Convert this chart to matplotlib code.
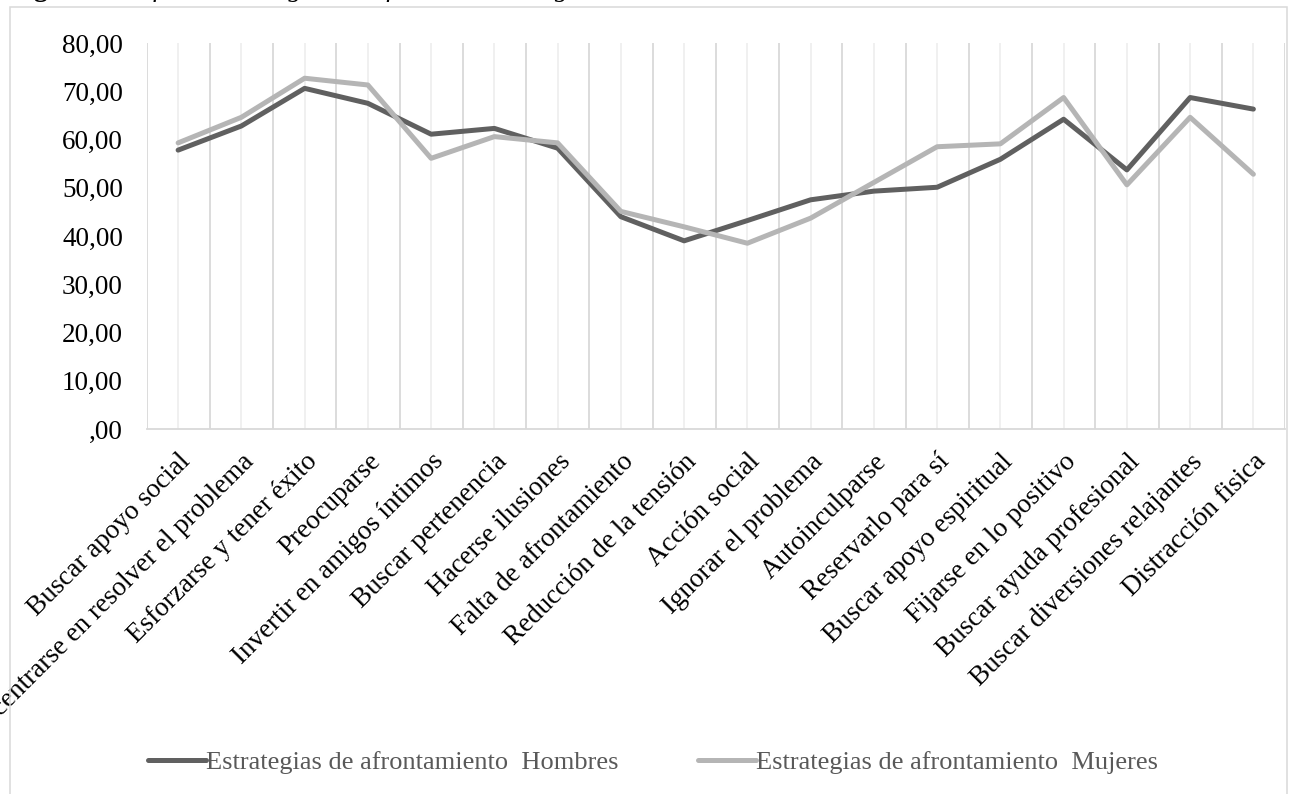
import matplotlib.pyplot as plt
from matplotlib.patches import Rectangle
from matplotlib.ticker import FuncFormatter, FixedLocator
from matplotlib.transforms import ScaledTranslation
import numpy as np

# estrategias de afrontamiento (eje x)
estrategias = [
    "Buscar apoyo social",
    "Concentrarse en resolver el problema",
    "Esforzarse y tener éxito",
    "Preocuparse",
    "Invertir en amigos íntimos",
    "Buscar pertenencia",
    "Hacerse ilusiones",
    "Falta de afrontamiento",
    "Reducción de la tensión",
    "Acción social",
    "Ignorar el problema",
    "Autoinculparse",
    "Reservarlo para sí",
    "Buscar apoyo espiritual",
    "Fijarse en lo positivo",
    "Buscar ayuda profesional",
    "Buscar diversiones relajantes",
    "Distracción fisica",
]

hombres = [57.8, 62.8, 70.6, 67.5, 61.1, 62.3, 58.2, 44.0, 39.0,
           43.2, 47.5, 49.3, 50.1, 55.9, 64.2, 53.7, 68.7, 66.3]
mujeres = [59.3, 64.6, 72.7, 71.3, 56.1, 60.6, 59.3, 45.1, 41.9,
           38.5, 43.7, 51.1, 58.5, 59.1, 68.7, 50.6, 64.6, 52.8]

series_labels = ["Estrategias de afrontamiento  Hombres",
                 "Estrategias de afrontamiento  Mujeres"]
y_ticks = [0, 10, 20, 30, 40, 50, 60, 70, 80]

plt.rcParams['font.family'] = ['Liberation Serif', 'DejaVu Serif']
FS = 19.5

W, H = 1293, 794
fig = plt.figure(figsize=(W / 100, H / 100), dpi=100)

# marco del gráfico
fig.patches.append(Rectangle((10 / W, -0.1), 1276.5 / W, 1.1 - 7.5 / H,
                             transform=fig.transFigure, fill=False,
                             edgecolor='#d9d9d9', linewidth=1.1))

# título de la figura (queda cortado por el borde superior)
fig.text(10 / W, 1 + 4.0 / H, "Figura 1.", fontsize=FS, fontweight='bold',
         va='baseline', ha='left', family='Liberation Serif')
fig.text(114 / W, 1 + 4.0 / H, "Perfil de estrategias de afrontamiento según sexo",
         fontsize=FS, fontstyle='italic', va='baseline', ha='left',
         family='Liberation Serif')

ax = fig.add_axes([146.5 / W, 1 - 429 / H, (1285 - 146.5) / W, (429 - 43) / H])

x = np.arange(len(estrategias))
ax.plot(x, hombres, color='#606060', lw=3.6, solid_capstyle='round',
        solid_joinstyle='round', label=series_labels[0], zorder=3)
ax.plot(x, mujeres, color='#b5b5b5', lw=3.6, solid_capstyle='round',
        solid_joinstyle='round', label=series_labels[1], zorder=3)

ax.set_xlim(-0.5, len(estrategias) - 0.5)
ax.set_ylim(0, 80)

# líneas verticales: claras en cada categoría, más marcadas entre categorías
for b in np.arange(-0.5, len(estrategias), 1.0):
    ax.axvline(b, color='#d9d9d9', lw=1.3, zorder=1)
for c in x:
    ax.axvline(c, color='#efefef', lw=1.3, zorder=1)

ax.set_xticks(x)
ax.set_xticklabels(estrategias, rotation=45, ha='right', rotation_mode='anchor',
                   fontsize=FS)
shift = ScaledTranslation(-4 / 100, 0, fig.dpi_scale_trans)
for lab in ax.get_xticklabels():
    lab.set_transform(lab.get_transform() + shift)

ax.yaxis.set_major_locator(FixedLocator(y_ticks))
ax.yaxis.set_major_formatter(FuncFormatter(
    lambda v, p: ",00" if v == 0 else f"{v:.2f}".replace(".", ",")))
ax.tick_params(axis='y', labelsize=FS, length=0, pad=17)
ax.tick_params(axis='x', length=0, pad=14.5)

for s in ['top', 'right', 'left']:
    ax.spines[s].set_visible(False)
ax.spines['bottom'].set_color('#d9d9d9')
ax.spines['bottom'].set_linewidth(1.3)

leg = fig.legend(loc='center', bbox_to_anchor=(653 / W, 1 - 762 / H), ncol=2,
                 frameon=False, fontsize=19, handlelength=2.2, handletextpad=0.0,
                 columnspacing=3.0)
for t in leg.get_texts():
    t.set_color('#595959')

fig.savefig('out.png', dpi=100)
